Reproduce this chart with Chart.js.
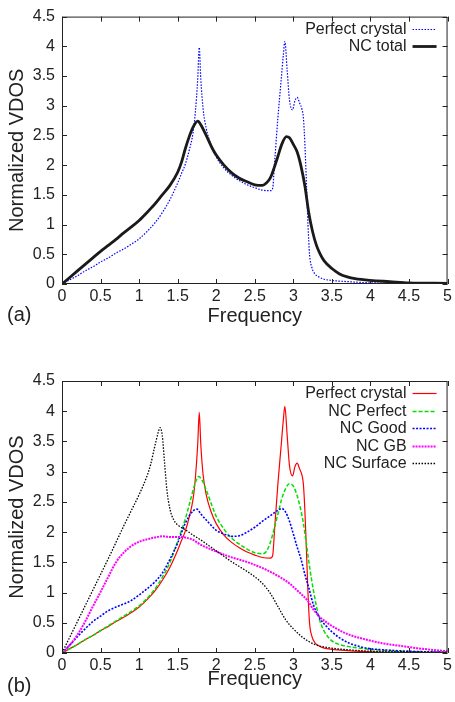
<!DOCTYPE html>
<html lang="en">
<head>
<meta charset="UTF-8">
<title>Normalized VDOS</title>
<script src="https://cdn.jsdelivr.net/npm/chart.js@4"></script>
<style>
  body { margin: 0; background: #fff; }
  canvas { display: block; }
</style>
</head>
<body>
<canvas id="chart-a" width="455" height="345"></canvas>
<canvas id="chart-b" width="455" height="357"></canvas>
<script>
// values (frequency -> normalized VDOS)
const pcFreq = [0, 0.1, 0.2, 0.3, 0.4, 0.5, 0.6, 0.7, 0.8, 0.9, 1.0, 1.1, 1.2, 1.3, 1.4, 1.5, 1.55, 1.6, 1.65, 1.7,
  1.73, 1.76, 1.78, 1.8, 1.83, 1.87, 1.93, 2.0, 2.1, 2.2, 2.3, 2.4, 2.5, 2.6, 2.7, 2.73, 2.76, 2.8, 2.84, 2.87,
  2.89, 2.92, 2.95, 2.99, 3.02, 3.05, 3.08, 3.11, 3.13, 3.15, 3.17, 3.19, 3.21, 3.24, 3.28, 3.33, 3.4, 3.5, 3.7, 4.0, 4.5, 5.0];
const pcVdos = [0, 0.07, 0.14, 0.22, 0.29, 0.37, 0.44, 0.52, 0.59, 0.67, 0.76, 0.88, 1.02, 1.2, 1.42, 1.7, 1.86, 2.02, 2.25, 2.55,
  2.9, 3.45, 3.98, 3.45, 2.95, 2.62, 2.35, 2.14, 1.95, 1.83, 1.74, 1.67, 1.62, 1.58, 1.57, 1.6, 2.1, 2.8, 3.4, 3.85,
  4.08, 3.6, 3.1, 2.93, 3.08, 3.14, 3.05, 2.95, 2.8, 2.35, 1.7, 1.0, 0.5, 0.28, 0.17, 0.12, 0.08, 0.06, 0.04, 0.02, 0.01, 0];

const totalFreq = [0, 0.1, 0.2, 0.3, 0.4, 0.5, 0.6, 0.7, 0.8, 0.9, 1.0, 1.1, 1.2, 1.3, 1.4, 1.5, 1.55, 1.6, 1.65, 1.7,
  1.76, 1.8, 1.87, 1.95, 2.0, 2.1, 2.2, 2.3, 2.4, 2.5, 2.6, 2.65, 2.7, 2.75, 2.8, 2.85, 2.91, 2.95, 3.0, 3.05,
  3.1, 3.15, 3.2, 3.25, 3.3, 3.35, 3.4, 3.5, 3.6, 3.7, 3.8, 4.0, 4.25, 4.5, 5.0];
const totalVdos = [0, 0.11, 0.22, 0.33, 0.44, 0.55, 0.65, 0.75, 0.86, 0.96, 1.07, 1.2, 1.34, 1.5, 1.66, 1.88, 2.05, 2.28, 2.48, 2.64,
  2.74, 2.68, 2.5, 2.28, 2.17, 2.0, 1.87, 1.78, 1.72, 1.67, 1.66, 1.7, 1.78, 1.95, 2.15, 2.35, 2.48, 2.46, 2.35, 2.22,
  1.98, 1.65, 1.2, 0.88, 0.65, 0.5, 0.39, 0.26, 0.17, 0.12, 0.09, 0.06, 0.04, 0.02, 0.01];

const perfFreq = [0, 0.1, 0.2, 0.3, 0.4, 0.5, 0.6, 0.7, 0.8, 0.9, 1.0, 1.1, 1.2, 1.3, 1.4, 1.5, 1.55, 1.6, 1.66, 1.72,
  1.77, 1.82, 1.87, 1.95, 2.0, 2.1, 2.2, 2.3, 2.4, 2.5, 2.6, 2.65, 2.7, 2.75, 2.8, 2.85, 2.9, 2.95, 3.0, 3.05,
  3.1, 3.13, 3.17, 3.21, 3.26, 3.3, 3.34, 3.4, 3.5, 3.6, 3.75, 4.0, 4.25, 4.5, 5.0];
const perfVdos = [0, 0.07, 0.14, 0.22, 0.29, 0.37, 0.45, 0.53, 0.61, 0.69, 0.78, 0.9, 1.05, 1.25, 1.5, 1.85, 2.03, 2.22, 2.5, 2.78,
  2.92, 2.85, 2.7, 2.42, 2.26, 2.05, 1.9, 1.8, 1.72, 1.66, 1.64, 1.68, 1.82, 2.05, 2.3, 2.55, 2.72, 2.8, 2.76, 2.6,
  2.35, 2.15, 1.8, 1.43, 1.04, 0.77, 0.55, 0.36, 0.2, 0.14, 0.1, 0.06, 0.04, 0.02, 0.01];

const goodFreq = [0, 0.1, 0.2, 0.3, 0.4, 0.5, 0.6, 0.7, 0.8, 0.9, 1.0, 1.1, 1.2, 1.3, 1.4, 1.5, 1.6, 1.7, 1.75, 1.8,
  1.9, 2.0, 2.1, 2.2, 2.3, 2.4, 2.5, 2.6, 2.7, 2.8, 2.85, 2.9, 2.95, 3.0, 3.05, 3.1, 3.15, 3.2, 3.26, 3.34,
  3.43, 3.51, 3.6, 3.73, 3.85, 3.95, 4.2, 4.5, 5.0];
const goodVdos = [0, 0.13, 0.27, 0.4, 0.52, 0.61, 0.7, 0.76, 0.81, 0.87, 0.96, 1.06, 1.17, 1.32, 1.55, 1.82, 2.15, 2.35, 2.38, 2.3,
  2.16, 2.03, 1.97, 1.93, 1.94, 2.0, 2.08, 2.18, 2.27, 2.36, 2.39, 2.33, 2.18, 1.97, 1.75, 1.55, 1.3, 1.08, 0.8, 0.58,
  0.44, 0.34, 0.25, 0.16, 0.11, 0.08, 0.05, 0.03, 0.01];

const gbFreq = [0, 0.1, 0.2, 0.3, 0.4, 0.5, 0.6, 0.7, 0.8, 0.9, 1.0, 1.1, 1.2, 1.3, 1.4, 1.5, 1.6, 1.7, 1.8, 1.96,
  2.18, 2.39, 2.61, 2.78, 2.95, 3.08, 3.19, 3.26, 3.34, 3.51, 3.73, 3.95, 4.16, 4.38, 4.6, 4.82, 5.0];
const gbVdos = [0, 0.13, 0.3, 0.52, 0.77, 1.01, 1.26, 1.5, 1.66, 1.77, 1.84, 1.88, 1.91, 1.93, 1.92, 1.92, 1.91, 1.87, 1.79, 1.7,
  1.59, 1.51, 1.4, 1.29, 1.15, 1.0, 0.86, 0.72, 0.6, 0.44, 0.3, 0.22, 0.16, 0.12, 0.08, 0.05, 0.03];

const surfFreq = [0, 0.1, 0.2, 0.3, 0.4, 0.5, 0.6, 0.7, 0.8, 0.9, 1.0, 1.1, 1.15, 1.2, 1.25, 1.27, 1.3, 1.33, 1.36, 1.4,
  1.45, 1.5, 1.6, 1.7, 1.8, 1.9, 2.0, 2.1, 2.2, 2.3, 2.4, 2.5, 2.6, 2.7, 2.8, 2.9, 3.0, 3.1, 3.2, 3.3,
  3.5, 3.75, 4.0, 4.5, 5.0];
const surfVdos = [0, 0.26, 0.52, 0.78, 1.04, 1.3, 1.56, 1.83, 2.1, 2.36, 2.62, 2.92, 3.12, 3.4, 3.66, 3.73, 3.6, 3.15, 2.7, 2.38,
  2.2, 2.12, 2.04, 1.95, 1.87, 1.78, 1.69, 1.6, 1.51, 1.43, 1.35, 1.26, 1.15, 0.99, 0.77, 0.55, 0.4, 0.28, 0.19, 0.13,
  0.08, 0.05, 0.03, 0.02, 0.01];

const TEXT = '#222';
const FONT = "'Liberation Sans', Arial, sans-serif";

function series(xs, ys) {
    return xs.map((x, i) => ({ x: x, y: ys[i] }));
}

// box round the plot with short ticks pointing inwards on every side
const framePlugin = {
    id: 'frame',
    afterDatasetsDraw(chart) {
        const { ctx, chartArea: a, scales: { x, y } } = chart;
        const len = 5;
        ctx.save();
        ctx.strokeStyle = '#222';
        ctx.lineWidth = 1;
        ctx.beginPath();
        ctx.rect(a.left + 0.5, a.top + 0.5, a.right - a.left - 1, a.bottom - a.top - 1);
        x.ticks.forEach(t => {
            const px = Math.round(x.getPixelForValue(t.value)) + 0.5;
            ctx.moveTo(px, a.bottom); ctx.lineTo(px, a.bottom - len);
            ctx.moveTo(px, a.top); ctx.lineTo(px, a.top + len);
        });
        y.ticks.forEach(t => {
            const py = Math.round(y.getPixelForValue(t.value)) + 0.5;
            ctx.moveTo(a.left, py); ctx.lineTo(a.left + len, py);
            ctx.moveTo(a.right, py); ctx.lineTo(a.right - len, py);
        });
        ctx.stroke();
        ctx.restore();
    }
};

// key in the top right corner: label first, line sample after it
const keyPlugin = {
    id: 'cornerKey',
    afterDatasetsDraw(chart) {
        const { ctx, chartArea: a } = chart;
        ctx.save();
        ctx.font = '16px ' + FONT;
        ctx.textAlign = 'right';
        ctx.textBaseline = 'middle';
        chart.data.datasets.forEach((ds, i) => {
            const y = Math.round(a.top + 12 + i * 17.6);
            ctx.fillStyle = TEXT;
            ctx.fillText(ds.label, a.right - 41, y + 1);
            ctx.strokeStyle = ds.borderColor;
            ctx.lineWidth = ds.borderWidth;
            ctx.setLineDash(ds.borderDash || []);
            ctx.beginPath();
            ctx.moveTo(a.right - 35, y + 0.5);
            ctx.lineTo(a.right - 11, y + 0.5);
            ctx.stroke();
        });
        ctx.restore();
    }
};

// panel letter under the y axis
const tagPlugin = {
    id: 'panelTag',
    afterDraw(chart, args, opts) {
        const ctx = chart.ctx;
        ctx.save();
        ctx.font = '20px ' + FONT;
        ctx.fillStyle = TEXT;
        ctx.textAlign = 'left';
        ctx.textBaseline = 'alphabetic';
        ctx.fillText(opts.text, 7, opts.y);
        ctx.restore();
    }
};

function makePanel(id, datasets, p) {
    datasets.forEach((ds, i) => { ds.order = datasets.length - i; });
    return new Chart(document.getElementById(id), {
        type: 'line',
        data: { datasets: datasets },
        options: {
            responsive: false,
            animation: false,
            events: [],
            layout: { padding: { top: p.top, right: 7, left: 0, bottom: 0 } },
            elements: {
                point: { radius: 0 },
                line: { cubicInterpolationMode: 'monotone', borderJoinStyle: 'round' }
            },
            scales: {
                x: {
                    type: 'linear', min: 0, max: 5,
                    grid: { display: false, drawTicks: false },
                    border: { display: false },
                    ticks: {
                        stepSize: 0.5, autoSkip: false, maxRotation: 0, padding: 3,
                        color: TEXT, font: { family: FONT, size: 16 },
                        callback: v => String(Math.round(v * 10) / 10)
                    },
                    title: {
                        display: true, text: 'Frequency', color: TEXT,
                        font: { family: FONT, size: 20 },
                        padding: { top: 0, bottom: p.titlePad }
                    },
                    afterFit: s => { s.height = p.axisH; }
                },
                y: {
                    min: 0, max: 4.5,
                    grid: { display: false, drawTicks: false },
                    border: { display: false },
                    ticks: {
                        stepSize: 0.5, autoSkip: false, padding: 7,
                        color: TEXT, font: { family: FONT, size: 16 },
                        callback: v => String(Math.round(v * 10) / 10)
                    },
                    title: {
                        display: true, text: 'Normalized VDOS', color: TEXT,
                        font: { family: FONT, size: 20 },
                        padding: { top: 5, bottom: 0 }
                    },
                    afterFit: s => { s.width = 62; }
                }
            },
            plugins: {
                legend: { display: false },
                tooltip: { enabled: false },
                panelTag: { text: p.tag, y: p.tagY }
            }
        },
        plugins: [framePlugin, keyPlugin, tagPlugin]
    });
}

makePanel('chart-a', [
    { label: 'Perfect crystal', data: series(pcFreq, pcVdos), borderColor: '#0000ff', borderWidth: 1.2, borderDash: [1.5, 1.5] },
    { label: 'NC total', data: series(totalFreq, totalVdos), borderColor: '#1a1a1a', borderWidth: 2.8 }
], { top: 12, axisH: 61, titlePad: 17, tag: '(a)', tagY: 321 });

makePanel('chart-b', [
    { label: 'Perfect crystal', data: series(pcFreq, pcVdos), borderColor: '#ff0000', borderWidth: 1.2 },
    { label: 'NC Perfect', data: series(perfFreq, perfVdos), borderColor: '#00e000', borderWidth: 1.5, borderDash: [4, 2] },
    { label: 'NC Good', data: series(goodFreq, goodVdos), borderColor: '#0000ff', borderWidth: 1.6, borderDash: [2, 1.5] },
    { label: 'NC GB', data: series(gbFreq, gbVdos), borderColor: '#ff00ff', borderWidth: 2, borderDash: [2, 1] },
    { label: 'NC Surface', data: series(surfFreq, surfVdos), borderColor: '#000000', borderWidth: 1.3, borderDash: [1.5, 1.5] }
], { top: 36, axisH: 49, titlePad: 11, tag: '(b)', tagY: 347 });
</script>
</body>
</html>
